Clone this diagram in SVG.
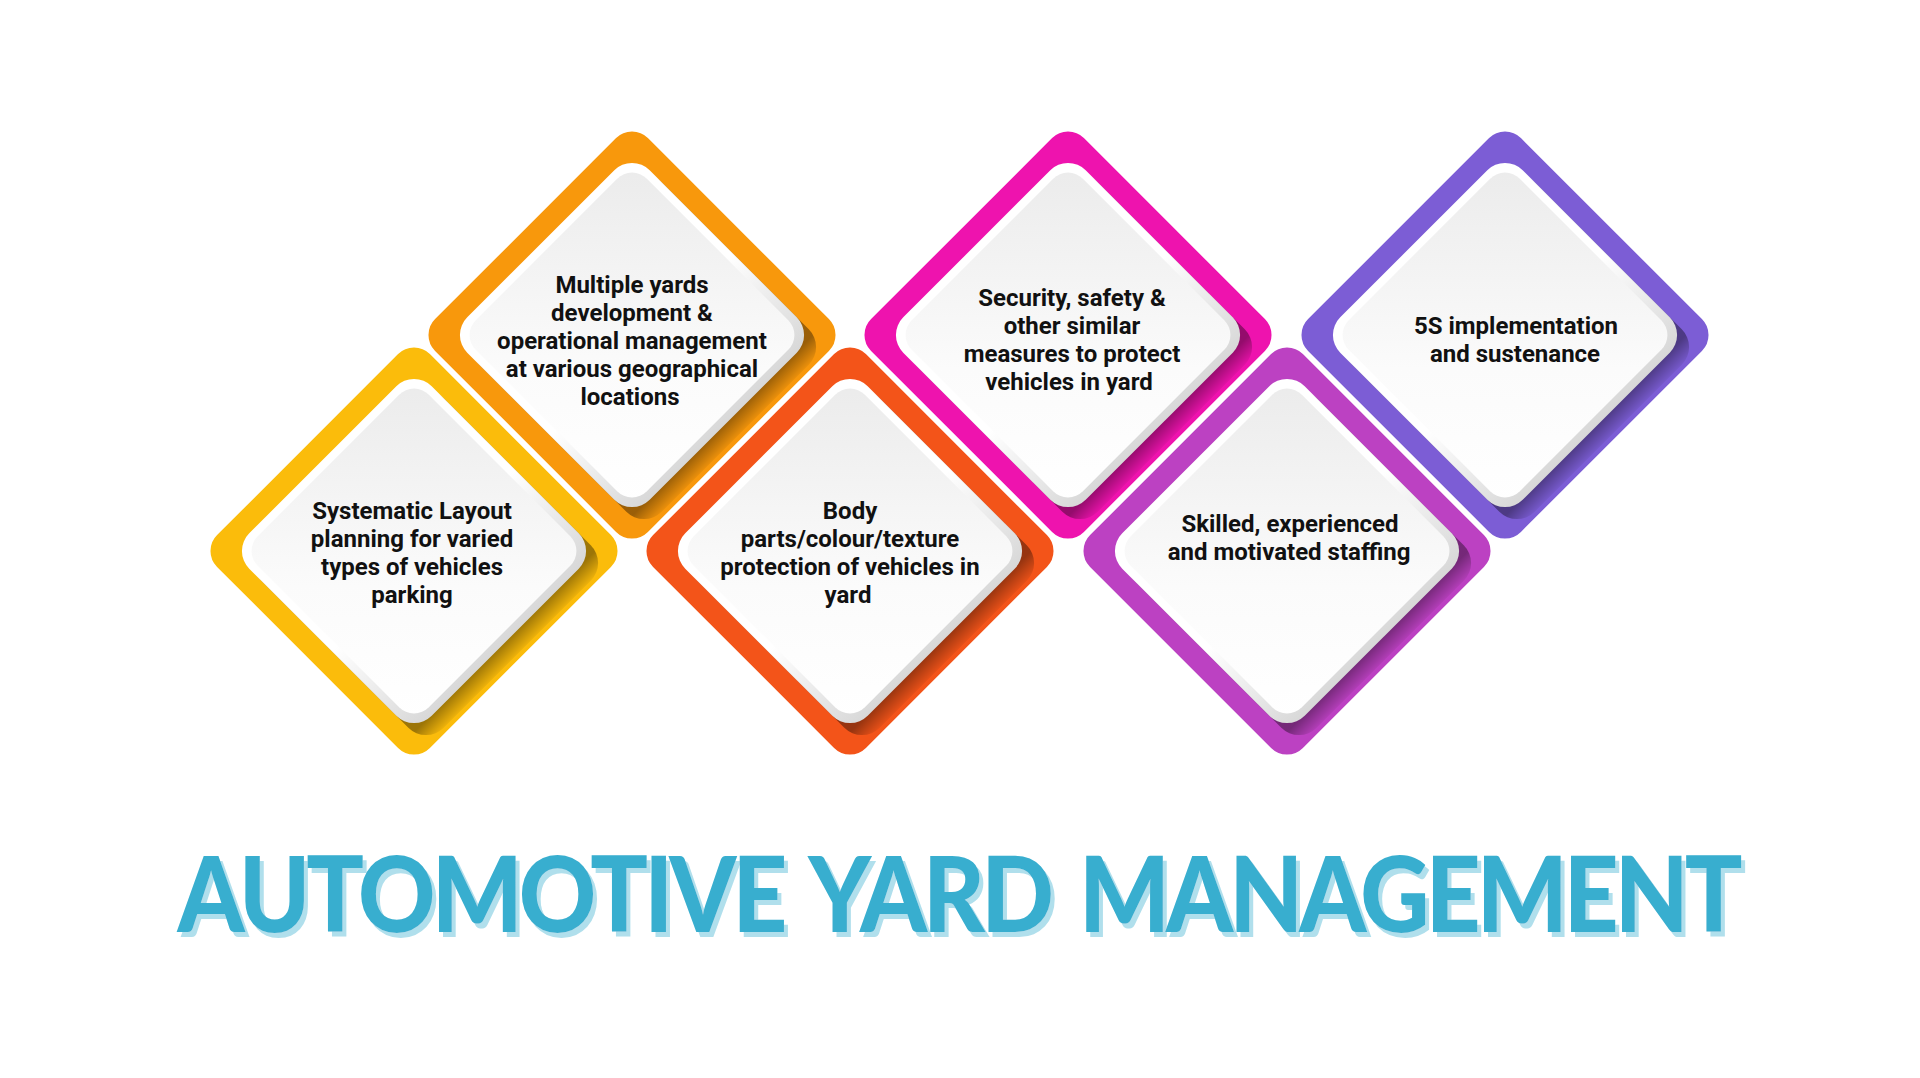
<svg xmlns="http://www.w3.org/2000/svg" width="1920" height="1078" viewBox="0 0 1920 1078">
<defs>
<linearGradient id="shadowGrad" gradientUnits="userSpaceOnUse" x1="128" y1="0" x2="147" y2="0">
<stop offset="0" stop-color="#000" stop-opacity="0.38"/>
<stop offset="1" stop-color="#000" stop-opacity="0.04"/>
</linearGradient>
<linearGradient id="rimGrad" x1="0" y1="0" x2="1" y2="0">
<stop offset="0" stop-color="#ffffff"/>
<stop offset="0.55" stop-color="#ffffff"/>
<stop offset="1" stop-color="#d8d8d8"/>
</linearGradient>
<linearGradient id="innerGrad" x1="0" y1="0" x2="1" y2="1">
<stop offset="0" stop-color="#ebebeb"/>
<stop offset="0.6" stop-color="#fbfbfb"/>
<stop offset="1" stop-color="#ffffff"/>
</linearGradient>
<filter id="titleShadow" x="-5%" y="-20%" width="110%" height="150%">
<feFlood flood-color="#B0DFEC" result="c"/>
<feComposite in="c" in2="SourceAlpha" operator="in" result="s"/>
<feOffset in="s" dx="4" dy="5" result="o"/>
<feMerge><feMergeNode in="o"/><feMergeNode in="SourceGraphic"/></feMerge>
</filter>
</defs>
<style>
.frame{stroke:#ffffff;stroke-width:3}
.shadow{fill:url(#shadowGrad)}
.rim{fill:url(#rimGrad)}
.inner{fill:url(#innerGrad)}
.lbl{font-family:Roboto,"Liberation Sans",Arial,sans-serif;font-weight:700;font-size:24px;fill:#111111;text-anchor:middle}
.title{font-family:Lato,Inter,Roboto,"Liberation Sans",sans-serif;font-weight:900;font-size:104px;letter-spacing:-4.3px;word-spacing:11px}
</style>
<rect width="1920" height="1078" fill="#ffffff"/>
<g id="connectors"></g>

<g id="node1">
<g transform="translate(414,551) rotate(45)">
<rect class="frame" x="-152" y="-152" width="304" height="304" rx="24" fill="#FBBC0B"/>
<rect class="shadow" x="-112" y="-129" width="258" height="258" rx="25"/>
<rect class="rim" x="-129" y="-129" width="258" height="258" rx="25"/>
<rect class="inner" x="-121" y="-121" width="242" height="242" rx="21"/>
</g>
<text class="lbl" x="412" y="519">Systematic Layout</text>
<text class="lbl" x="412" y="547">planning for varied</text>
<text class="lbl" x="412" y="575">types of vehicles</text>
<text class="lbl" x="412" y="603">parking</text>
</g>

<g id="node2">
<g transform="translate(632,335) rotate(45)">
<rect class="frame" x="-152" y="-152" width="304" height="304" rx="24" fill="#F8980C"/>
<rect class="shadow" x="-112" y="-129" width="258" height="258" rx="25"/>
<rect class="rim" x="-129" y="-129" width="258" height="258" rx="25"/>
<rect class="inner" x="-121" y="-121" width="242" height="242" rx="21"/>
</g>
<text class="lbl" x="632" y="293">Multiple yards</text>
<text class="lbl" x="632" y="321">development &amp;</text>
<text class="lbl" x="632" y="349">operational management</text>
<text class="lbl" x="632" y="377">at various geographical</text>
<text class="lbl" x="630" y="405">locations</text>
</g>

<g id="node3">
<g transform="translate(850,551) rotate(45)">
<rect class="frame" x="-152" y="-152" width="304" height="304" rx="24" fill="#F35419"/>
<rect class="shadow" x="-112" y="-129" width="258" height="258" rx="25"/>
<rect class="rim" x="-129" y="-129" width="258" height="258" rx="25"/>
<rect class="inner" x="-121" y="-121" width="242" height="242" rx="21"/>
</g>
<text class="lbl" x="850" y="519">Body</text>
<text class="lbl" x="850" y="547">parts/colour/texture</text>
<text class="lbl" x="850" y="575">protection of vehicles in</text>
<text class="lbl" x="848" y="603">yard</text>
</g>

<g id="node4">
<g transform="translate(1068,335) rotate(45)">
<rect class="frame" x="-152" y="-152" width="304" height="304" rx="24" fill="#EE13AE"/>
<rect class="shadow" x="-112" y="-129" width="258" height="258" rx="25"/>
<rect class="rim" x="-129" y="-129" width="258" height="258" rx="25"/>
<rect class="inner" x="-121" y="-121" width="242" height="242" rx="21"/>
</g>
<text class="lbl" x="1072" y="306">Security, safety &amp;</text>
<text class="lbl" x="1072" y="334">other similar</text>
<text class="lbl" x="1072" y="362">measures to protect</text>
<text class="lbl" x="1069" y="390">vehicles in yard</text>
</g>

<g id="node5">
<g transform="translate(1287,551) rotate(45)">
<rect class="frame" x="-152" y="-152" width="304" height="304" rx="24" fill="#BC41C2"/>
<rect class="shadow" x="-112" y="-129" width="258" height="258" rx="25"/>
<rect class="rim" x="-129" y="-129" width="258" height="258" rx="25"/>
<rect class="inner" x="-121" y="-121" width="242" height="242" rx="21"/>
</g>
<text class="lbl" x="1290" y="532">Skilled, experienced</text>
<text class="lbl" x="1289" y="560">and motivated staffing</text>
</g>

<g id="node6">
<g transform="translate(1505,335) rotate(45)">
<rect class="frame" x="-152" y="-152" width="304" height="304" rx="24" fill="#7C5DD5"/>
<rect class="shadow" x="-112" y="-129" width="258" height="258" rx="25"/>
<rect class="rim" x="-129" y="-129" width="258" height="258" rx="25"/>
<rect class="inner" x="-121" y="-121" width="242" height="242" rx="21"/>
</g>
<text class="lbl" x="1516" y="334">5S implementation</text>
<text class="lbl" x="1515" y="362">and sustenance</text>
</g>

<g id="title" transform="translate(958,932) scale(0.92,1)">
<text class="title" x="0" y="0" fill="#38AECF" text-anchor="middle" filter="url(#titleShadow)">AUTOMOTIVE YARD MANAGEMENT</text>
</g>
</svg>
